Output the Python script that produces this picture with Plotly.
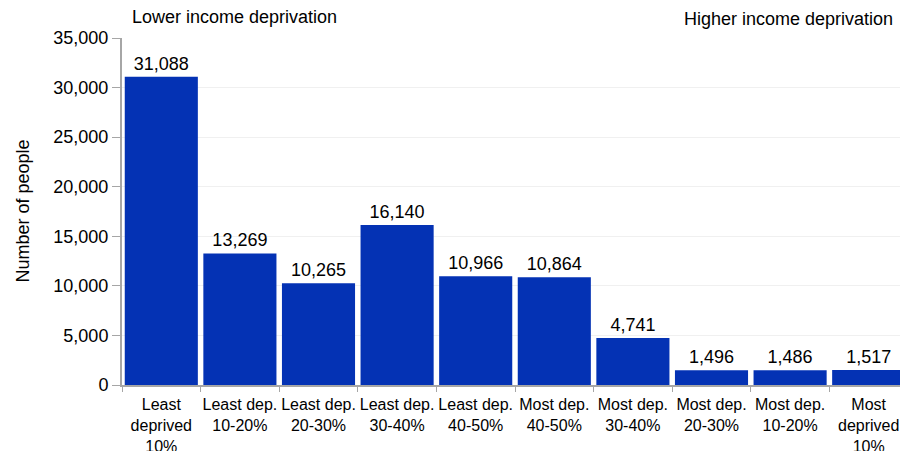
import plotly.graph_objects as go

categories = ["Least<br>deprived<br>10%", "Least dep.<br>10-20%", "Least dep.<br>20-30%",
              "Least dep.<br>30-40%", "Least dep.<br>40-50%", "Most dep.<br>40-50%",
              "Most dep.<br>30-40%", "Most dep.<br>20-30%", "Most dep.<br>10-20%",
              "Most<br>deprived<br>10%"]
people = [31088, 13269, 10265, 16140, 10966, 10864, 4741, 1496, 1486, 1517]

font_family = "Liberation Sans, Arial, sans-serif"

fig = go.Figure(go.Bar(
    x=categories, y=people,
    marker=dict(color="#0432B4", line=dict(width=0)),
    text=[f"{v:,}" for v in people],
    textposition="outside",
    textfont=dict(size=18, color="#000000"),
    cliponaxis=False,
))

# page body adds an 8px offset, margins compensate for it
fig.update_layout(
    width=908, height=451,
    margin=dict(l=114, r=8, t=30, b=74),
    paper_bgcolor="white", plot_bgcolor="white",
    font=dict(family=font_family, size=16, color="#000000"),
    bargap=0.07,
    showlegend=False,
    xaxis=dict(showline=True, linecolor="#A6A6A6", linewidth=2, automargin=False,
               ticks="outside", tickson="boundaries", ticklen=5, tickcolor="#A6A6A6",
               tickangle=0, ticklabelstandoff=4, tickfont=dict(size=16)),
    yaxis=dict(range=[0, 35000], dtick=5000, tickformat=",",
               showgrid=True, gridcolor="#F0F0F0", gridwidth=1, automargin=False,
               showline=True, linecolor="#A6A6A6", linewidth=2,
               ticks="outside", ticklen=8, tickcolor="#A6A6A6",
               tickfont=dict(size=18)),
)
fig.add_annotation(text="Number of people", xref="paper", yref="paper",
                   x=0, y=0.5, xshift=-100, xanchor="center", yanchor="middle",
                   textangle=-90, showarrow=False, font=dict(size=18))
fig.add_annotation(text="Lower income deprivation", xref="paper", yref="paper",
                   x=0, y=1, xshift=8, yshift=21, xanchor="left", yanchor="middle",
                   showarrow=False, font=dict(size=18))
fig.add_annotation(text="Higher income deprivation", xref="paper", yref="paper",
                   x=1, y=1, xshift=-13, yshift=19, xanchor="right", yanchor="middle",
                   showarrow=False, font=dict(size=18))

fig.write_html("out.html")
